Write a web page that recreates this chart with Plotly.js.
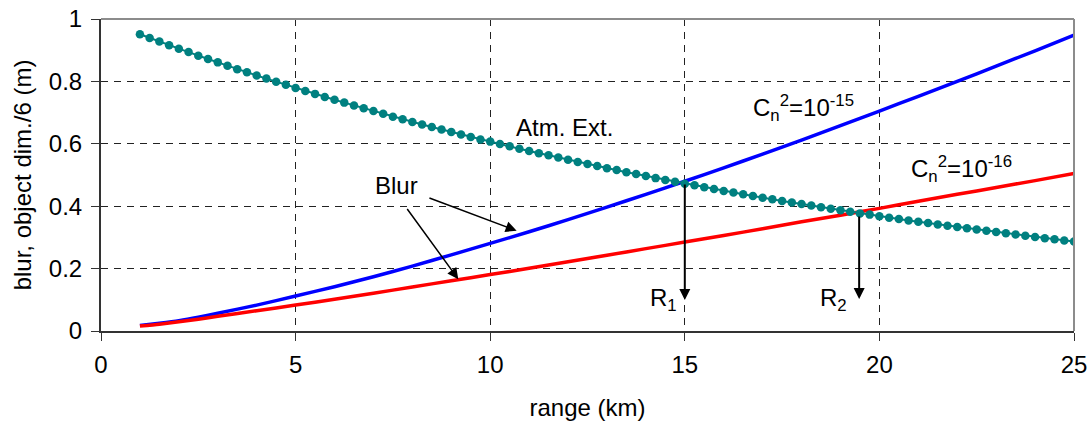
<!DOCTYPE html>
<html>
<head>
<meta charset="utf-8">
<script src="https://cdn.plot.ly/plotly-3.0.1.min.js"></script>
<style>
  html, body { margin: 0; padding: 0; background: #ffffff; }
  #chart { width: 1091px; height: 424px; }
</style>
</head>
<body>
<div id="chart"></div>
<script>
// Range samples (km) for the atmospheric extinction curve, every 0.25 km
const extRangeKm = [
  1, 1.25, 1.5, 1.75, 2, 2.25, 2.5, 2.75, 3, 3.25, 3.5, 3.75, 4, 4.25, 4.5, 4.75,
  5, 5.25, 5.5, 5.75, 6, 6.25, 6.5, 6.75, 7, 7.25, 7.5, 7.75, 8, 8.25, 8.5, 8.75,
  9, 9.25, 9.5, 9.75, 10, 10.25, 10.5, 10.75, 11, 11.25, 11.5, 11.75, 12, 12.25, 12.5, 12.75,
  13, 13.25, 13.5, 13.75, 14, 14.25, 14.5, 14.75, 15, 15.25, 15.5, 15.75, 16, 16.25, 16.5, 16.75,
  17, 17.25, 17.5, 17.75, 18, 18.25, 18.5, 18.75, 19, 19.25, 19.5, 19.75, 20, 20.25, 20.5, 20.75,
  21, 21.25, 21.5, 21.75, 22, 22.25, 22.5, 22.75, 23, 23.25, 23.5, 23.75, 24, 24.25, 24.5, 24.75,
  25
];

// Atmospheric extinction (transmission) at each sample
const atmExt = [
  0.951, 0.939, 0.928, 0.916, 0.905, 0.894, 0.882, 0.872, 0.861, 0.850,
  0.839, 0.829, 0.819, 0.809, 0.799, 0.789, 0.779, 0.769, 0.760, 0.750,
  0.741, 0.732, 0.723, 0.714, 0.705, 0.696, 0.687, 0.679, 0.670, 0.662,
  0.654, 0.646, 0.638, 0.630, 0.622, 0.614, 0.607, 0.599, 0.592, 0.584,
  0.577, 0.570, 0.563, 0.556, 0.549, 0.542, 0.535, 0.529, 0.522, 0.516,
  0.509, 0.503, 0.497, 0.490, 0.484, 0.478, 0.472, 0.467, 0.461, 0.455,
  0.449, 0.444, 0.438, 0.433, 0.427, 0.422, 0.417, 0.412, 0.407, 0.402,
  0.397, 0.392, 0.387, 0.382, 0.377, 0.373, 0.368, 0.363, 0.359, 0.354,
  0.350, 0.346, 0.341, 0.337, 0.333, 0.329, 0.325, 0.321, 0.317, 0.313,
  0.309, 0.305, 0.301, 0.297, 0.294, 0.290, 0.287
];

// Range samples (km) for the blur curves
const blurRangeKm = [1, 1.5, 2, 2.5, 3, 4, 5, 6, 7, 8, 9, 10, 11, 12, 13, 14, 15, 16, 17, 18, 19, 20, 21, 22, 23, 24, 25];

// Blur for Cn^2 = 1e-15
const blurCn15 = [
  0.018, 0.025, 0.033, 0.044, 0.057, 0.083, 0.112, 0.142, 0.174, 0.208, 0.244, 0.281,
  0.318, 0.357, 0.397, 0.438, 0.480, 0.523, 0.567, 0.612, 0.658, 0.705,
  0.752, 0.800, 0.849, 0.898, 0.948
];

// Blur for Cn^2 = 1e-16
const blurCn16 = [
  0.016, 0.022, 0.030, 0.038, 0.047, 0.065, 0.083, 0.102, 0.121, 0.141, 0.161, 0.181,
  0.201, 0.222, 0.243, 0.264, 0.285, 0.306, 0.328, 0.350, 0.371, 0.393,
  0.416, 0.438, 0.460, 0.482, 0.505
];

// Ranges where extinction meets each blur curve
const crossR1 = { x: 15.0, y: 0.474 };
const crossR2 = { x: 19.48, y: 0.372 };

const FONT = 'Liberation Sans, Arial, Helvetica, sans-serif';
const AXIS_DARK = '#333333';
const FRAME_GREY = '#8c8c8c';

const traces = [
  {
    x: blurRangeKm, y: blurCn15, type: 'scatter', mode: 'lines',
    line: { color: '#0000ff', width: 3.5, shape: 'spline', smoothing: 0.6 }, hoverinfo: 'skip'
  },
  {
    x: blurRangeKm, y: blurCn16, type: 'scatter', mode: 'lines',
    line: { color: '#ff0000', width: 3.5, shape: 'spline', smoothing: 0.6 }, hoverinfo: 'skip'
  },
  {
    x: extRangeKm, y: atmExt, type: 'scatter', mode: 'lines+markers',
    line: { color: '#008080', width: 2 },
    marker: { color: '#008080', size: 8.5 }, hoverinfo: 'skip'
  }
];

function arrow(tip, tail, width) {
  return {
    x: tip.x, y: tip.y, xref: 'x', yref: 'y',
    ax: tail.x, ay: tail.y, axref: 'x', ayref: 'y',
    text: '',
    showarrow: true, arrowhead: 2, arrowsize: 11 / (5 * width),
    arrowwidth: width, arrowcolor: '#000000', standoff: 0, startstandoff: 0
  };
}

function label(text, x, y) {
  return {
    x: x, y: y, xref: 'x', yref: 'y', text: text, showarrow: false,
    font: { family: FONT, size: 24, color: '#000000' },
    xanchor: 'center', yanchor: 'middle'
  };
}

const annotations = [
  label('Atm. Ext.', 11.9, 0.651),
  label('Blur', 7.6, 0.465),
  label('C<sub>n</sub><sup>2</sup>=10<sup>-15</sup>', 18.04, 0.716),
  label('C<sub>n</sub><sup>2</sup>=10<sup>-16</sup>', 22.12, 0.519),
  label('R<sub>1</sub>', 14.44, 0.1),
  label('R<sub>2</sub>', 18.83, 0.1),
  arrow({ x: 10.68, y: 0.3215 }, { x: 8.40, y: 0.428 }, 1.5),
  arrow({ x: 9.18, y: 0.166 }, { x: 7.84, y: 0.396 }, 1.5),
  arrow({ x: crossR1.x, y: 0.099 }, crossR1, 2),
  arrow({ x: crossR2.x, y: 0.1026 }, crossR2, 2)
];

const axisCommon = {
  showline: true, linecolor: AXIS_DARK, linewidth: 2,
  ticks: 'outside', ticklen: 8, tickwidth: 1, tickcolor: AXIS_DARK,
  showgrid: true, gridcolor: '#222222', gridwidth: 1, griddash: '7px,6px',
  zeroline: false, fixedrange: true,
  tickfont: { family: FONT, size: 24, color: '#000000' }
};

const layout = {
  width: 1091, height: 424,
  margin: { l: 101, r: 17, t: 19, b: 93 },
  paper_bgcolor: '#ffffff', plot_bgcolor: '#ffffff',
  showlegend: false,
  font: { family: FONT, size: 24, color: '#000000' },
  xaxis: Object.assign({}, axisCommon, {
    range: [0, 25], tick0: 0, dtick: 5, ticklabelstandoff: 3,
    title: { text: 'range (km)', font: { family: FONT, size: 24, color: '#000000' }, standoff: 22 }
  }),
  yaxis: Object.assign({}, axisCommon, {
    range: [0, 1], tick0: 0, dtick: 0.2, ticklabelstandoff: 4,
    title: { text: 'blur, object dim./6 (m)', font: { family: FONT, size: 24, color: '#000000' }, standoff: 10 }
  }),
  shapes: [
    { type: 'line', xref: 'paper', yref: 'paper', x0: 0, x1: 1, y0: 1, y1: 1,
      line: { color: FRAME_GREY, width: 2 } },
    { type: 'line', xref: 'paper', yref: 'paper', x0: 1, x1: 1, y0: 0, y1: 1,
      line: { color: FRAME_GREY, width: 2 } }
  ],
  annotations: annotations
};

Plotly.newPlot('chart', traces, layout, { displayModeBar: false, staticPlot: true });
</script>
</body>
</html>
